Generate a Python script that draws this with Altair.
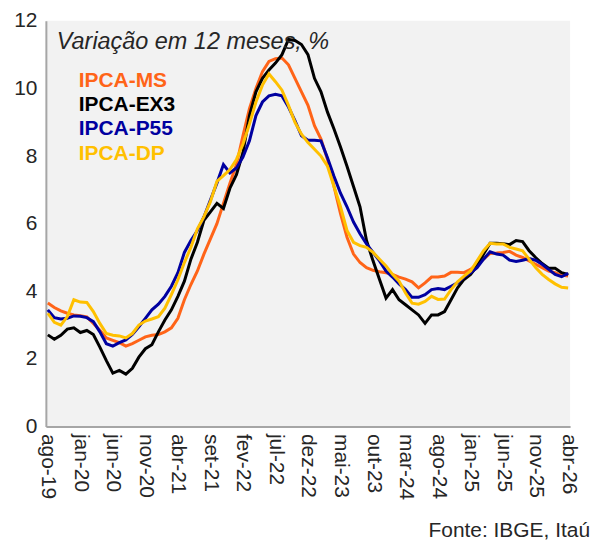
import altair as alt
import pandas as pd

# ---- data -------------------------------------------------------------
month_names = ["jan", "fev", "mar", "abr", "mai", "jun",
               "jul", "ago", "set", "out", "nov", "dez"]
months = []
y, m = 2019, 7  # ago-19
while (y, m) <= (2026, 3):  # abr-26
    months.append(f"{month_names[m]}-{str(y)[2:]}")
    m += 1
    if m == 12:
        m, y = 0, y + 1

tick_labels = ["ago-19", "jan-20", "jun-20", "nov-20", "abr-21", "set-21",
               "fev-22", "jul-22", "dez-22", "mai-23", "out-23", "mar-24",
               "ago-24", "jan-25", "jun-25", "nov-25", "abr-26"]

series_names = ["IPCA-MS", "IPCA-EX3", "IPCA-P55", "IPCA-DP"]
series_colors = ["#FF6418", "#000000", "#0000A0", "#FFC000"]

ipca_ms = [3.65, 3.52, 3.42, 3.35, 3.30, 3.28, 3.24, 3.05, 2.85, 2.62,
           2.55, 2.48, 2.38, 2.45, 2.55, 2.65, 2.70, 2.72, 2.80, 2.92,
           3.20, 3.75, 4.20, 4.60, 5.10, 5.55, 6.00, 6.60, 7.20, 7.75,
           8.60, 9.40, 10.00, 10.50, 10.80, 10.88, 10.90, 10.70, 10.30, 9.90,
           9.50, 8.90, 8.50, 7.90, 7.10, 6.30, 5.60, 5.10, 4.85, 4.70,
           4.62, 4.58, 4.55, 4.50, 4.42, 4.36, 4.28, 4.10, 4.25, 4.42,
           4.42, 4.45, 4.56, 4.56, 4.55, 4.65, 4.80, 4.95, 5.12, 5.13,
           5.15, 5.18, 5.07, 5.00, 4.90, 4.80, 4.70, 4.60, 4.55, 4.48,
           4.45]

ipca_ex3 = [2.71, 2.58, 2.70, 2.88, 2.92, 2.78, 2.84, 2.72, 2.35, 1.95,
            1.58, 1.66, 1.55, 1.72, 2.05, 2.30, 2.42, 2.80, 3.15, 3.45,
            3.85, 4.30, 4.95, 5.45, 6.10, 6.35, 6.60, 6.45, 7.05, 7.45,
            8.10, 9.20, 9.90, 10.30, 10.55, 10.75, 11.00, 11.45, 11.42, 11.30,
            11.00, 10.30, 9.90, 9.30, 8.80, 8.27, 7.70, 7.10, 6.50, 5.50,
            4.90, 4.35, 3.80, 4.05, 3.75, 3.60, 3.45, 3.30, 3.05, 3.30,
            3.30, 3.40, 3.75, 4.10, 4.35, 4.50, 4.75, 5.10, 5.42, 5.42,
            5.41, 5.38, 5.50, 5.47, 5.20, 5.00, 4.82, 4.68, 4.68, 4.55,
            4.50]

ipca_p55 = [3.45, 3.22, 3.18, 3.20, 3.27, 3.26, 3.22, 3.10, 2.80, 2.45,
            2.38, 2.48, 2.56, 2.72, 2.95, 3.20, 3.45, 3.62, 3.85, 4.15,
            4.55, 5.15, 5.50, 5.80, 6.20, 6.70, 7.20, 7.75, 7.50, 7.65,
            7.97, 8.45, 9.20, 9.60, 9.78, 9.83, 9.78, 9.45, 9.05, 8.60,
            8.47, 8.47, 8.45, 7.95, 7.40, 6.90, 6.50, 6.05, 5.70, 5.40,
            5.15, 4.90, 4.60, 4.42, 4.22, 4.05, 3.82, 3.82, 3.90, 4.05,
            4.08, 4.05, 4.15, 4.25, 4.42, 4.55, 4.70, 4.95, 5.17, 5.10,
            5.07, 4.92, 4.88, 4.92, 4.97, 4.92, 4.80, 4.65, 4.50, 4.43,
            4.53]

ipca_dp = [3.35, 3.08, 3.00, 3.25, 3.75, 3.68, 3.67, 3.40, 3.05, 2.75,
           2.70, 2.68, 2.62, 2.75, 3.00, 3.12, 3.18, 3.25, 3.50, 3.90,
           4.34, 4.85, 5.30, 5.85, 6.20, 6.65, 7.25, 7.42, 7.60, 7.90,
           8.35, 8.95, 9.60, 10.10, 10.43, 10.20, 9.95, 9.50, 9.00, 8.65,
           8.40, 8.20, 8.00, 7.70, 7.10, 6.50, 5.80, 5.45, 5.35, 5.30,
           5.15, 4.95, 4.75, 4.50, 4.30, 3.95, 3.65, 3.62, 3.70, 3.85,
           3.76, 3.77, 4.05, 4.28, 4.45, 4.60, 4.90, 5.20, 5.42, 5.40,
           5.40, 5.30, 5.25, 5.20, 4.95, 4.70, 4.50, 4.35, 4.22, 4.12,
           4.10]

title_text = "Variação em 12 meses, %"
source_text = "Fonte: IBGE, Itaú"

# ---- build table --------------------------------------------------------
rows = []
for name, vals in zip(series_names, [ipca_ms, ipca_ex3, ipca_p55, ipca_dp]):
    for mes, v in zip(months, vals):
        rows.append({"mes": mes, "serie": name, "valor": v,
                     "ordem": series_names.index(name)})
df = pd.DataFrame(rows)

FONT = "Liberation Sans"
TXT = "#262626"

lines = alt.Chart(df).mark_line(strokeWidth=3).encode(
    x=alt.X("mes:O", sort=months,
            scale=alt.Scale(type="point", padding=0.3),
            axis=alt.Axis(values=tick_labels, labelAngle=90, labelAlign="left",
                          labelBaseline="middle", labelPadding=7, title=None)),
    y=alt.Y("valor:Q", scale=alt.Scale(domain=[0, 12], nice=False),
            axis=alt.Axis(values=[0, 2, 4, 6, 8, 10, 12], labelPadding=9,
                          title=None)),
    color=alt.Color("serie:N", scale=alt.Scale(domain=series_names,
                                               range=series_colors),
                    legend=None),
    order=alt.Order("ordem:Q"),
    detail="serie:N",
)

one = pd.DataFrame({"k": [0]})

title_layer = alt.Chart(one).mark_text(
    align="left", baseline="alphabetic", fontStyle="italic",
    fontSize=23.5, font=FONT, color=TXT
).encode(x=alt.value(11), y=alt.value(28), text=alt.value(title_text))

legend_layers = []
for j, (name, col) in enumerate(zip(series_names, series_colors)):
    legend_layers.append(
        alt.Chart(one).mark_text(
            align="left", baseline="middle", fontWeight="bold",
            fontSize=21, font=FONT, color=col
        ).encode(x=alt.value(33), y=alt.value(60 + 24.5 * j),
                 text=alt.value(name))
    )

source_layer = alt.Chart(one).mark_text(
    align="right", baseline="middle", fontSize=21, font=FONT, color=TXT
).encode(x=alt.value(546), y=alt.value(512), text=alt.value(source_text))

chart = alt.layer(lines, title_layer, *legend_layers, source_layer).properties(
    width=526, height=407,
    autosize=alt.AutoSizeParams(type="none"),
    padding={"left": 38, "top": 12, "right": 25, "bottom": 116},
    background="white",
).configure_view(
    fill="#F2F2F2", strokeWidth=0
).configure_axis(
    domainColor="#A6A6A6", domainWidth=2, ticks=False, grid=False,
    labelColor=TXT, labelFont=FONT, labelFontSize=21,
)

chart.save("out.html", embed_options={"renderer": "svg", "actions": False})
